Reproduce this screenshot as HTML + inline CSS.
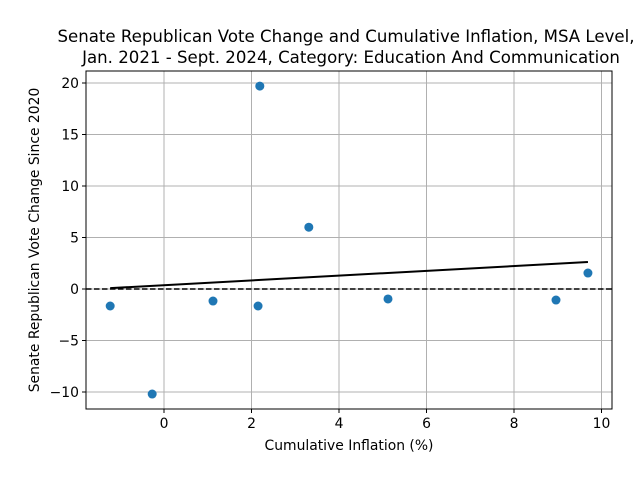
<!DOCTYPE html>
<html><head><meta charset="utf-8"><style>
body{margin:0;background:#fff;}
svg{display:block;font-family:"DejaVu Sans","Liberation Sans",sans-serif;}
</style></head><body>
<svg id="chart" width="640" height="480">
<rect width="640" height="480" fill="#fff"/>
<text x="346" y="42" text-anchor="middle" font-size="16.6">Senate Republican Vote Change and Cumulative Inflation, MSA Level,</text>
<text x="351" y="63" text-anchor="middle" font-size="16.6">Jan. 2021 - Sept. 2024, Category: Education And Communication</text>
<g id="grid"></g><g id="ticks"></g><g id="marks"></g>
<rect x="86" y="71" width="526" height="338" fill="none" stroke="#000" stroke-width="1"/>
<text x="349" y="450" text-anchor="middle" font-size="13.9">Cumulative Inflation (%)</text>
<text transform="translate(39,240) rotate(-90)" text-anchor="middle" font-size="13.9">Senate Republican Vote Change Since 2020</text>
</svg>
<script>
const xValues=[-1.23,-0.27,1.12,2.15,2.19,3.31,5.12,8.96,9.69];
const yValues=[-1.65,-10.2,-1.17,-1.65,19.7,6.0,-0.97,-1.07,1.55];
const xTicks=[0,2,4,6,8,10];
const yTicks=[-10,-5,0,5,10,15,20];
const NS="http://www.w3.org/2000/svg";
const X=v=>164+v*43.75, Y=v=>289-v*10.3;
function mk(t,a,p){const e=document.createElementNS(NS,t);for(const k in a)e.setAttribute(k,a[k]);document.getElementById(p).appendChild(e);return e;}
xTicks.forEach(v=>{
 const g=mk('line',{x1:X(v),x2:X(v),y1:71,y2:409,stroke:'#b0b0b0','stroke-width':1},'grid');
 
 
 mk('line',{x1:X(v),x2:X(v),y1:409,y2:413,stroke:'#000'},'ticks');
 const t=mk('text',{x:X(v),y:428,'text-anchor':'middle','font-size':13.9},'ticks');
 t.textContent=v;
 
 
});
yTicks.forEach(v=>{
 const g=mk('line',{x1:86,x2:612,y1:Y(v),y2:Y(v),stroke:'#b0b0b0','stroke-width':1},'grid');
 
 
 mk('line',{x1:82,x2:86,y1:Y(v),y2:Y(v),stroke:'#000'},'ticks');
 const t=mk('text',{x:79,y:Y(v)+5,'text-anchor':'end','font-size':13.9},'ticks');
 t.textContent=v<0?'\u2212'+Math.abs(v):v;
 
 
});
const z=mk('line',{x1:86,x2:612,y1:Y(0),y2:Y(0),stroke:'#000','stroke-width':1.5,'stroke-dasharray':'5.5,2.5'},'marks');


const n=xValues.length;
const mx=xValues.reduce((a,b)=>a+b)/n, my=yValues.reduce((a,b)=>a+b)/n;
let sxy=0,sxx=0;for(let i=0;i<n;i++){sxy+=(xValues[i]-mx)*(yValues[i]-my);sxx+=(xValues[i]-mx)**2;}
const slope=sxy/sxx, icpt=my-slope*mx;
const x0=Math.min(...xValues), x1=Math.max(...xValues);
const tl=mk('line',{x1:X(x0),y1:Y(icpt+slope*x0),x2:X(x1),y2:Y(icpt+slope*x1),stroke:'#000','stroke-width':2},'marks');


for(let i=0;i<n;i++){
 const c=mk('circle',{cx:X(xValues[i]),cy:Y(yValues[i]),r:4.5,fill:'#1f77b4'},'marks');
 
 
}
</script>
</body></html>
